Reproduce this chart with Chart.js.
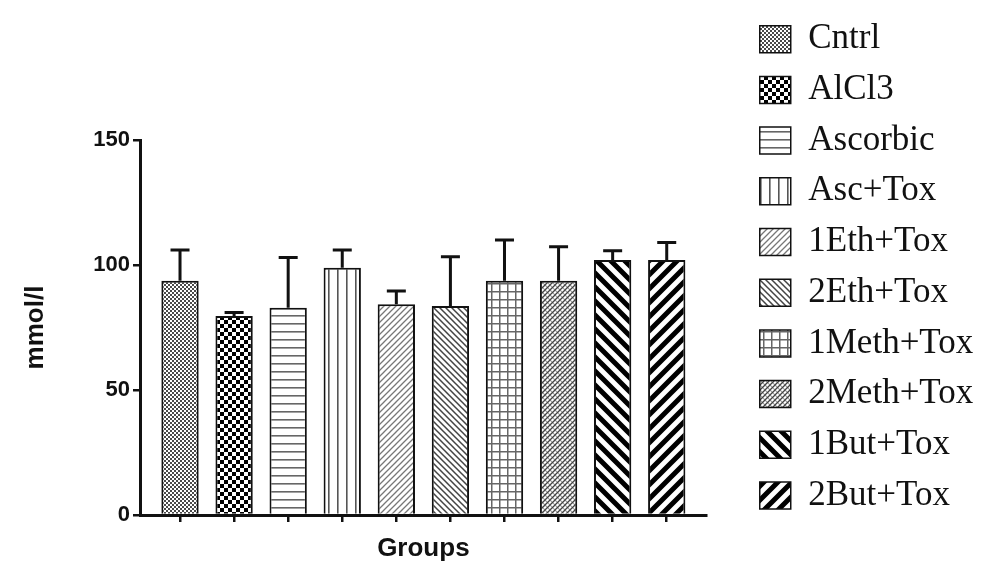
<!DOCTYPE html>
<html>
<head>
<meta charset="utf-8">
<script src="https://cdn.jsdelivr.net/npm/chart.js@4.4.1/dist/chart.umd.min.js"></script>
<style>
  html, body { margin: 0; padding: 0; background: #fff; }
  #wrap { width: 1000px; height: 586px; }
</style>
</head>
<body>
<div id="wrap"><canvas id="groupsChart"></canvas></div>
<script>
(function () {
    'use strict';

    // DATA
    let groups = ['Cntrl', 'AlCl3', 'Ascorbic', 'Asc+Tox', '1Eth+Tox',
                  '2Eth+Tox', '1Meth+Tox', '2Meth+Tox', '1But+Tox', '2But+Tox'];
    let means  = [93.7, 79.6, 82.9, 98.9, 84.3, 83.6, 93.7, 93.7, 102, 102];
    let sems   = [12.3, 1.4, 20.1, 7.1, 5.3, 19.7, 16.3, 13.6, 3.7, 7];
    let yTicks = [0, 50, 100, 150];


    //PATTERN TILES
    function tile(w, h, draw) {
        let c = document.createElement('canvas');
        c.width = w;
        c.height = h;
        let g = c.getContext('2d');
        g.fillStyle = '#fff';
        g.fillRect(0, 0, w, h);
        draw(g, w, h);
        return g.createPattern(c, 'repeat');
    }

    function diag(g, s, lw, color, dir) {
        g.strokeStyle = color;
        g.lineWidth = lw;
        g.lineCap = 'square';
        g.beginPath();
        if (dir === '/') {
            g.moveTo(0, s); g.lineTo(s, 0);
            g.moveTo(-s, s); g.lineTo(s, -s);
            g.moveTo(0, 2 * s); g.lineTo(2 * s, 0);
        } else {
            g.moveTo(0, 0); g.lineTo(s, s);
            g.moveTo(-s, 0); g.lineTo(s, 2 * s);
            g.moveTo(0, -s); g.lineTo(2 * s, s);
        }
        g.stroke();
    }

    let patterns = [
        tile(4, 4, function (g) {
            g.fillStyle = '#4a4a4a';
            g.fillRect(0, 0, 2, 2);
            g.fillRect(2, 2, 2, 2);
        }),
        tile(8, 8, function (g) {
            g.fillStyle = '#000';
            g.fillRect(0, 0, 4, 4);
            g.fillRect(4, 4, 4, 4);
        }),
        tile(8, 8, function (g) {
            g.fillStyle = '#666';
            g.fillRect(0, 3, 8, 1.6);
        }),
        tile(9, 8, function (g) {
            g.fillStyle = '#555';
            g.fillRect(4, 0, 1.6, 8);
        }),
        tile(6, 6, function (g, s) { diag(g, s, 1.3, '#777', '/'); }),
        tile(6, 6, function (g, s) { diag(g, s, 1.5, '#444', '\\'); }),
        tile(8, 8, function (g) {
            g.fillStyle = '#666';
            g.fillRect(3, 0, 1.5, 8);
            g.fillRect(0, 3, 8, 1.5);
        }),
        tile(5, 5, function (g, s) {
            diag(g, s, 1.1, '#999', '\\');
            diag(g, s, 1.3, '#444', '/');
        }),
        tile(14, 14, function (g, s) { diag(g, s, 5, '#000', '\\'); }),
        tile(14, 14, function (g, s) { diag(g, s, 5, '#000', '/'); })
    ];


    //ERROR BARS (MEAN + SEM, UPPER ONLY)
    let errorBars = {
        id: 'errorBars',
        afterDatasetsDraw: function (chart) {
            let ctx = chart.ctx;
            let yScale = chart.scales.y;
            let meta = chart.getDatasetMeta(0);
            ctx.save();
            ctx.strokeStyle = '#111';
            ctx.lineWidth = 3;
            meta.data.forEach(function (bar, i) {
                let top = yScale.getPixelForValue(means[i] + sems[i]);
                ctx.beginPath();
                ctx.moveTo(bar.x, bar.y);
                ctx.lineTo(bar.x, top);
                ctx.moveTo(bar.x - 9.5, top);
                ctx.lineTo(bar.x + 9.5, top);
                ctx.stroke();
            });
            ctx.restore();
        }
    };


    let axisFont = { family: "'Liberation Sans', Arial, sans-serif", size: 22, weight: 'bold' };
    let titleFont = { family: "'Liberation Sans', Arial, sans-serif", size: 26, weight: 'bold' };

    new Chart(document.getElementById('groupsChart'), {
        type: 'bar',
        data: {
            datasets: [{
                label: 'mmol/l',
                data: means.map(function (v, i) { return { x: i, y: v }; }),
                backgroundColor: patterns,
                borderColor: '#111',
                borderWidth: 2,
                barPercentage: 0.69,
                categoryPercentage: 1
            }]
        },
        options: {
            responsive: true,
            maintainAspectRatio: false,
            animation: false,
            layout: { padding: { top: 6, right: 16.7, bottom: 0, left: 0 } },
            scales: {
                x: {
                    type: 'linear',
                    min: -0.74,
                    max: 9.74,
                    offset: false,
                    afterBuildTicks: function (s) {
                        s.ticks = groups.map(function (g, i) { return { value: i }; });
                    },
                    afterFit: function (s) { s.height = 71; },
                    ticks: { callback: function () { return ''; } },
                    grid: { offset: false, drawOnChartArea: false, color: '#111', lineWidth: 2.5, tickLength: 7 },
                    border: { color: '#111', width: 3 },
                    title: { display: true, text: 'Groups', color: '#111', font: titleFont,
                             padding: { top: 0, bottom: 22 } }
                },
                y: {
                    min: 0,
                    max: 150,
                    afterBuildTicks: function (s) {
                        s.ticks = yTicks.map(function (v) { return { value: v }; });
                    },
                    afterFit: function (s) { s.width = 140; },
                    ticks: { color: '#111', font: axisFont, padding: 3 },
                    grid: { drawOnChartArea: false, color: '#111', lineWidth: 2.5, tickLength: 7 },
                    border: { color: '#111', width: 3 },
                    title: { display: true, text: 'mmol/l', color: '#111', font: titleFont,
                             padding: { top: 20, bottom: 0 } }
                },
                y2: {
                    position: 'right',
                    display: true,
                    grid: { display: false },
                    border: { display: false },
                    ticks: { display: false },
                    afterFit: function (s) { s.width = 37.3; }
                }
            },
            plugins: {
                title: {
                    display: true,
                    text: '',
                    fullSize: false,
                    padding: { top: 0, bottom: 119.6 }
                },
                tooltip: { enabled: false },
                legend: {
                    position: 'right',
                    align: 'start',
                    maxWidth: 320,
                    labels: {
                        boxWidth: 31,
                        boxHeight: 27,
                        padding: 15.7,
                        color: '#111',
                        font: { family: "'Liberation Serif', 'Times New Roman', serif", size: 35 },
                        generateLabels: function () {
                            return groups.map(function (name, i) {
                                return {
                                    text: name,
                                    fillStyle: patterns[i],
                                    strokeStyle: '#111',
                                    lineWidth: 1.5,
                                    fontColor: '#111',
                                    hidden: false,
                                    datasetIndex: 0,
                                    index: i
                                };
                            });
                        }
                    }
                }
            }
        },
        plugins: [errorBars]
    });

})();
</script>
</body>
</html>
